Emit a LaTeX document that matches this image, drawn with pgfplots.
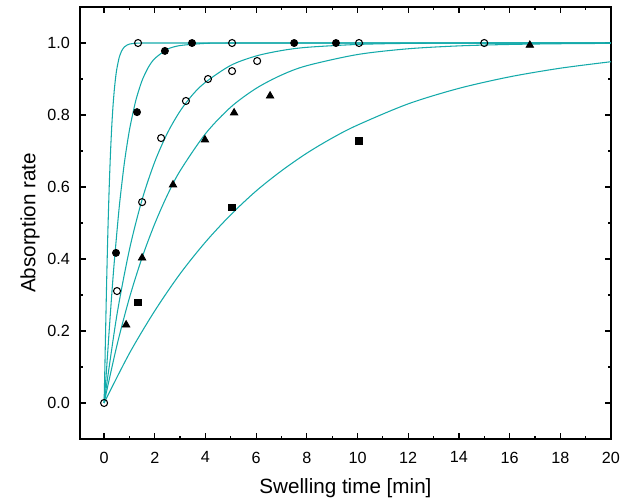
\documentclass[border=0pt]{standalone}
\usepackage{fontspec}
\setmainfont{Liberation Sans}
\usepackage{pgfplots}
\pgfplotsset{compat=1.18}
\usetikzlibrary{calc}
\definecolor{fitcol}{RGB}{20,170,170}

\begin{document}
\begin{tikzpicture}
\begin{axis}[
  name=ax,
  width=249.5pt, height=203pt, scale only axis,
  xmin=-0.95, xmax=20,
  ymin=-0.1, ymax=1.1,
  xtick={0,2,...,20},
  minor x tick num=1,
  ytick={0,0.2,...,1.0},
  minor y tick num=1,
  tick align=inside,
  major tick length=2.8pt,
  minor tick length=1.5pt,
  axis line style={line width=0.7pt},
  every tick/.style={black, line width=0.6pt},
  tick label style={font=\fontsize{7.6}{9}\selectfont},
  xticklabel style={yshift=-2.5pt},
  yticklabel style={xshift=-1.2pt},
  label style={font=\fontsize{9.7}{11}\selectfont},
  /pgf/number format/assume math mode=true,
  yticklabel style={/pgf/number format/.cd, fixed, fixed zerofill, precision=1},
  xlabel={Swelling time [min]},
  ylabel={Absorption rate},
  x label style={at={(axis description cs:0.5,-0.113)}, anchor=center},
  y label style={at={(axis description cs:-0.094,0.5)}, anchor=center},
  clip=false,
]
% fitted curves
\addplot[fitcol, line width=0.5pt, smooth, tension=0.4] coordinates {
  (0,0)(0.03,0.095)(0.05,0.166)(0.1,0.333)(0.15,0.477)(0.2,0.595)(0.25,0.690)
  (0.3,0.765)(0.35,0.823)(0.4,0.867)(0.45,0.901)(0.5,0.927)(0.6,0.961)(0.7,0.979)
  (0.8,0.989)(0.9,0.994)(1.0,0.997)(1.2,0.999)(1.5,1.0)(3,1.0)(20,1.0)};
\addplot[fitcol, line width=0.5pt, smooth, tension=0.4] coordinates {
  (0,0)(0.1,0.096)(0.2,0.200)(0.3,0.299)(0.4,0.390)(0.6,0.546)(0.8,0.667)
  (1.0,0.758)(1.25,0.840)(1.5,0.896)(1.75,0.933)(2.0,0.957)(2.5,0.983)(3,0.993)
  (4,0.999)(5,1.0)(8,1.0)(20,1.0)};
\addplot[fitcol, line width=0.5pt, smooth] coordinates {
  (0,0)(0.5,0.242)(1,0.426)(1.5,0.565)(2,0.670)(2.5,0.750)(3,0.811)(3.5,0.857)
  (4,0.891)(5,0.938)(6,0.964)(7,0.979)(8,0.988)(10,0.996)(12,0.999)(15,1.0)(20,1.0)};
\addplot[fitcol, line width=0.5pt, smooth] coordinates {
  (0,0)(0.5,0.158)(1,0.292)(1.5,0.404)(2,0.498)(2.5,0.578)(3,0.645)(4,0.748)
  (5,0.822)(6,0.874)(7,0.911)(8,0.937)(10,0.968)(12,0.984)(14,0.992)(16,0.996)
  (18,0.998)(20,0.999)};
\addplot[fitcol, line width=0.5pt, smooth] coordinates {
  (0,0)(1,0.138)(2,0.256)(3,0.359)(4,0.447)(5,0.523)(6,0.589)(7,0.645)(8,0.694)
  (9,0.736)(10,0.772)(12,0.831)(14,0.874)(16,0.906)(18,0.930)(20,0.948)};
% measured points
\addplot[only marks, mark=*, mark size=1.65pt, black] coordinates {
  (0.47,0.417)(1.3,0.808)(2.4,0.978)(3.47,1.0)(7.5,1.0)(9.15,1.0)};
\addplot[only marks, mark=o, mark size=1.65pt, black, mark options={fill=white, line width=0.5pt}] coordinates {
  (0,0)(0.51,0.311)(1.34,1.0)(1.5,0.558)(2.25,0.736)(3.23,0.839)(4.1,0.9)
  (5.05,0.922)(5.05,1.0)(6.04,0.95)(10.06,1.0)(15,1.0)};
\addplot[only marks, mark=triangle*, mark size=2pt, black] coordinates {
  (0.87,0.217)(1.5,0.403)(2.72,0.606)(3.98,0.731)(5.13,0.806)(6.55,0.853)(16.8,0.994)};
\addplot[only marks, mark=square*, mark size=1.5pt, black] coordinates {
  (1.34,0.28)(5.05,0.544)(10.06,0.728)};
\end{axis}
\pgfresetboundingbox
\path ($(ax.south west)+(-37.6pt,-28.7pt)$) rectangle ($(ax.north east)+(9.9pt,3.3pt)$);
\end{tikzpicture}
\end{document}
